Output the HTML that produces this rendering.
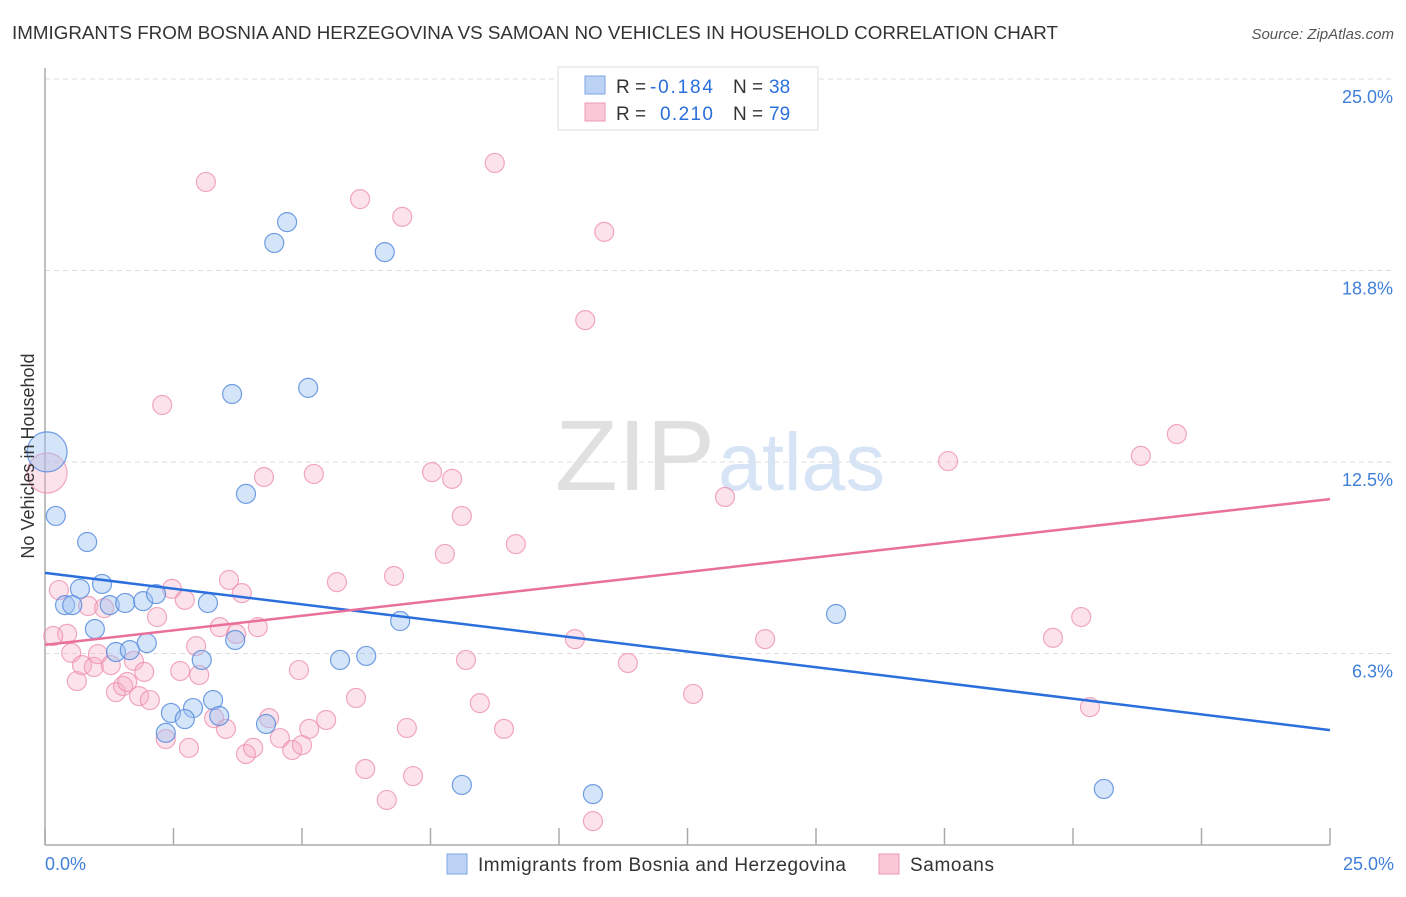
<!DOCTYPE html>
<html><head><meta charset="utf-8"><style>
body{margin:0;background:#fff;font-family:"Liberation Sans",sans-serif;}
svg text{font-family:"Liberation Sans",sans-serif;}
</style></head><body>
<svg id="chart" width="1406" height="892" viewBox="0 0 1406 892" xmlns="http://www.w3.org/2000/svg">
<text x="12" y="39" font-size="18" fill="#333" textLength="1046" lengthAdjust="spacingAndGlyphs">IMMIGRANTS FROM BOSNIA AND HERZEGOVINA VS SAMOAN NO VEHICLES IN HOUSEHOLD CORRELATION CHART</text>
<text x="1394" y="39" font-size="15" fill="#555" font-style="italic" text-anchor="end">Source: ZipAtlas.com</text>
<g id="grid"></g>
<text x="555" y="490" font-size="100" fill="#e0e0e0" font-family="Liberation Serif" textLength="160" lengthAdjust="spacingAndGlyphs">ZIP</text>
<text x="718" y="490" font-size="82" fill="#d6e4f5" textLength="167" lengthAdjust="spacingAndGlyphs">atlas</text>
<g id="points"></g>
<g id="trends"></g>
<text transform="translate(34,456) rotate(-90)" font-size="18" fill="#333" text-anchor="middle">No Vehicles in Household</text>
<g>
<rect x="558" y="67" width="260" height="63" fill="#fff" stroke="#ddd"/>
<rect x="585" y="76" width="20" height="18" fill="#bcd3f5" stroke="#7ea6e4"/>
<rect x="585" y="103" width="20" height="18" fill="#f9c7d6" stroke="#ee9ab5"/>
<text x="616" y="93" font-size="19" fill="#333">R =</text>
<text x="650" y="93" font-size="19" fill="#2a6fdb" textLength="63">-0.184</text>
<text x="733" y="93" font-size="19" fill="#333">N =</text>
<text x="769" y="93" font-size="19" fill="#2a6fdb">38</text>
<text x="616" y="120" font-size="19" fill="#333">R =</text>
<text x="660" y="120" font-size="19" fill="#2a6fdb" textLength="53">0.210</text>
<text x="733" y="120" font-size="19" fill="#333">N =</text>
<text x="769" y="120" font-size="19" fill="#2a6fdb">79</text>
</g>
<g>
<rect x="447" y="854" width="20" height="20" fill="#bcd3f5" stroke="#7ea6e4"/>
<text x="478" y="871" font-size="19" fill="#333" textLength="368">Immigrants from Bosnia and Herzegovina</text>
<rect x="879" y="854" width="20" height="20" fill="#f9c7d6" stroke="#ee9ab5"/>
<text x="910" y="871" font-size="19" fill="#333" textLength="84">Samoans</text>
</g>
</svg>
<script>
const yTicks=[6.25,12.5,18.75,25];
const yTickLabels=["6.3%","12.5%","18.8%","25.0%"];
const xTicks=[0,2.5,5,7.5,10,12.5,15,17.5,20,22.5,25];
const xEndLabels=["0.0%","25.0%"];
const blueX=[.04,.21,.82,1.11,.68,.39,.53,1.26,1.56,1.91,2.16,.97,3.17,6.91,3.70,1.98,1.38,1.65,3.05,5.74,6.25,3.27,2.88,2.45,2.72,3.39,2.35,4.30,3.64,5.12,3.91,4.46,4.71,6.61,15.39,8.11,10.66,20.60];
const blueY=[12.83,10.74,9.89,8.52,8.36,7.83,7.83,7.83,7.90,7.96,8.19,7.05,7.90,7.31,6.69,6.59,6.30,6.36,6.04,6.04,6.17,4.73,4.47,4.31,4.11,4.21,3.66,3.95,14.72,14.92,11.46,19.65,20.33,19.35,7.54,1.96,1.66,1.83];
const pinkX=[.04,.27,.43,.16,.51,.62,.72,.84,.95,1.03,1.15,1.28,1.38,1.52,1.60,1.73,1.83,1.93,2.04,2.18,2.28,2.35,2.47,2.63,2.72,2.80,3.00,2.94,3.13,3.29,3.40,3.52,3.58,3.72,3.83,3.91,4.05,4.14,4.26,4.36,4.57,4.81,4.94,5.00,5.14,5.23,5.47,5.68,6.05,6.13,6.23,6.65,6.79,6.95,7.04,7.16,7.53,7.78,7.92,8.11,8.19,8.46,8.75,8.93,9.16,10.31,10.51,10.66,10.88,11.34,12.61,13.23,14.01,17.57,19.61,20.16,20.33,21.32,22.02];
const pinkY=[12.14,8.32,6.89,6.82,6.27,5.35,5.87,7.80,5.81,6.23,7.73,5.87,4.99,5.19,5.32,6.01,4.86,5.65,4.73,7.44,14.36,3.46,8.36,5.68,8.00,3.17,5.55,6.49,21.64,4.14,7.11,3.79,8.65,6.89,8.22,2.97,3.17,7.11,12.01,4.14,3.49,3.10,5.71,3.26,3.79,12.11,4.08,8.58,4.80,21.08,2.48,1.47,8.78,20.50,3.82,2.25,12.17,9.50,11.95,10.74,6.04,4.63,22.26,3.79,9.82,6.72,17.13,.78,20.01,5.94,4.93,11.36,6.72,12.53,6.76,7.44,4.50,12.70,13.41];
const blueTrend=[8.88,3.75];
const pinkTrend=[6.53,11.29];
const NS="http://www.w3.org/2000/svg";
const X=v=>45+v/25*1285;
const Y=v=>845-v/25*766;
function mk(tag,attrs,parent){const e=document.createElementNS(NS,tag);for(const k in attrs)e.setAttribute(k,attrs[k]);parent.appendChild(e);return e;}
const grid=document.getElementById('grid');
yTicks.forEach((t,i)=>{
  const l=mk('line',{x1:45,x2:1394,y1:Y(t),y2:Y(t),stroke:'#ddd','stroke-dasharray':'5,4'},grid);
  
  
  const tx=mk('text',{x:1393,y:Y(t)+24,'font-size':18,fill:'#3f7fd9','text-anchor':'end'},grid);
  tx.textContent=yTickLabels[i];
  
  
});
const ya=mk('line',{x1:45,x2:45,y1:68,y2:845,stroke:'#aaa','stroke-width':1.5},grid);


const xa=mk('line',{x1:45,x2:1330,y1:845,y2:845,stroke:'#aaa','stroke-width':1.5},grid);


xTicks.forEach(t=>{
  const l=mk('line',{x1:X(t),x2:X(t),y1:828,y2:845,stroke:'#aaa','stroke-width':1.5},grid);
  
  
});
[[0,'start',45],[25,'end',1394]].forEach((d,i)=>{
  const tx=mk('text',{x:d[2],y:870,'font-size':18,fill:'#3f7fd9','text-anchor':d[1]},grid);
  tx.textContent=xEndLabels[i];
  
  
});
const pts=document.getElementById('points');
function drawSeries(xs,ys,fill,stroke,name){
  xs.forEach((x,i)=>{
    const r=(x<0.1)?20:9.5;
    const c=mk('circle',{cx:X(x),cy:Y(ys[i]),r:r,fill:fill,stroke:stroke,'stroke-width':1.2},pts);
    
    
  });
}
drawSeries(pinkX,pinkY,'rgba(246,172,197,0.35)','rgba(236,140,172,0.75)','samoan-point');
drawSeries(blueX,blueY,'rgba(160,195,242,0.45)','rgba(80,135,220,0.8)','bosnia-point');
const tr=document.getElementById('trends');
const bl=mk('line',{x1:X(0),y1:Y(blueTrend[0]),x2:X(25),y2:Y(blueTrend[1]),stroke:'#2a6fdb','stroke-width':2.5},tr);


const pl=mk('line',{x1:X(0),y1:Y(pinkTrend[0]),x2:X(25),y2:Y(pinkTrend[1]),stroke:'#e8709a','stroke-width':2.5},tr);


</script>
</body></html>
